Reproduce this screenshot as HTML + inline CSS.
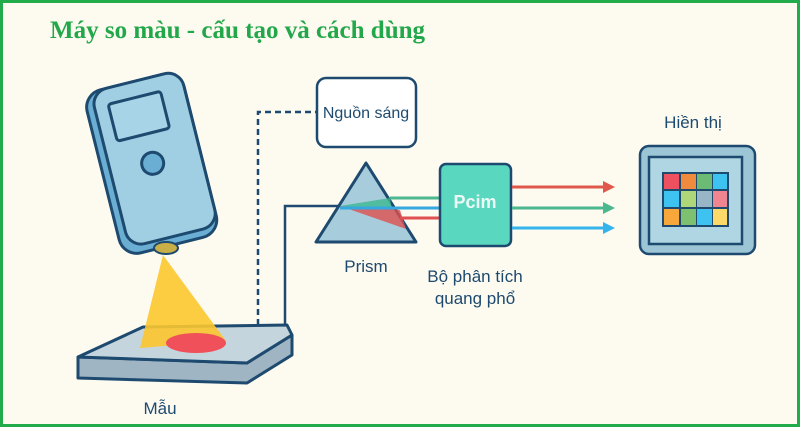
<!DOCTYPE html>
<html><head><meta charset="utf-8"><style>
html,body{margin:0;padding:0;}
body{width:800px;height:427px;overflow:hidden;background:#fdfaf0;}
svg{display:block}
text{font-family:"Liberation Sans","DejaVu Sans",sans-serif;fill:#1d4a6e;}
</style></head><body>
<svg width="800" height="427" viewBox="0 0 800 427" xmlns="http://www.w3.org/2000/svg">
<rect x="1.5" y="1.5" width="797" height="424" fill="#fdfaf0" stroke="#22ab4b" stroke-width="3"/>
<text x="50" y="38" style="font-family:'Liberation Serif',serif;font-weight:bold;font-size:25px;fill:#22a84a">Máy so màu - cấu tạo và cách dùng</text>

<!-- base plate -->
<polygon points="78,357 78,378 247,383 292,355 292,335 247,363" fill="#9fb5c4" stroke="#1d4a6e" stroke-width="3" stroke-linejoin="round"/>
<polygon points="78,357 143,327 287,325 292,335 247,363" fill="#c5d5de" stroke="#1d4a6e" stroke-width="3" stroke-linejoin="round"/>
<!-- cone -->
<polygon points="163,255 140,348 226,341" fill="#fcc72d" opacity="0.9"/>
<ellipse cx="196" cy="343" rx="30" ry="10" fill="#f0505a"/>

<!-- device -->
<g transform="rotate(-14 150 165)">
<rect x="102" y="80" width="100" height="168" rx="18" fill="#6aaed4" stroke="#1d4a6e" stroke-width="3"/>
<rect x="110" y="80" width="92" height="160" rx="16" fill="#a0cfe4" stroke="#1d4a6e" stroke-width="3"/>
<rect x="124" y="96" width="54" height="38" rx="3" fill="#a8d4e8" stroke="#1d4a6e" stroke-width="3"/>
<circle cx="153" cy="164" r="11" fill="#6aaed4" stroke="#1d4a6e" stroke-width="3"/>
</g>
<ellipse cx="166" cy="248" rx="12" ry="6" fill="#c9b046" stroke="#1d4a6e" stroke-width="2"/>

<!-- connectors -->
<polyline points="258,325 258,112 316,112" fill="none" stroke="#1d4a6e" stroke-width="2.5" stroke-dasharray="6,4"/>
<polyline points="285,325 285,206 345,206" fill="none" stroke="#1d4a6e" stroke-width="2.5"/>

<!-- nguon sang -->
<rect x="317" y="78" width="99" height="69" rx="9" fill="#fff" stroke="#1d4a6e" stroke-width="2.5"/>
<text x="366" y="118" font-size="16" text-anchor="middle">Nguồn sáng</text>

<!-- prism -->
<polygon points="366,163 316,242 416,242" fill="#a7cddd" stroke="#1d4a6e" stroke-width="3" stroke-linejoin="round"/>
<polygon points="340,206 390,198 392,210" fill="#3cb890" opacity="0.8"/>
<polygon points="340,206 406,229 400,210" fill="#e05050" opacity="0.8"/>
<line x1="390" y1="198" x2="440" y2="198" stroke="#4cb890" stroke-width="3"/>
<line x1="340" y1="208" x2="440" y2="208" stroke="#35a8e0" stroke-width="3"/>
<line x1="400" y1="218" x2="440" y2="218" stroke="#e05050" stroke-width="3"/>
<text x="366" y="272" font-size="17" text-anchor="middle">Prism</text>

<!-- Pcim -->
<rect x="440" y="164" width="71" height="82" rx="6" fill="#5ad8bf" stroke="#1d4a6e" stroke-width="2.5"/>
<text x="475" y="208" font-size="18" text-anchor="middle" style="fill:#eafaf5;font-weight:bold">Pcim</text>
<text x="475" y="282" font-size="17" text-anchor="middle">Bộ phân tích</text>
<text x="475" y="304" font-size="17" text-anchor="middle">quang phổ</text>

<!-- arrows -->
<line x1="512" y1="187" x2="605" y2="187" stroke="#e0584c" stroke-width="3"/>
<polygon points="603,181 615,187 603,193" fill="#e0584c"/>
<line x1="512" y1="208" x2="605" y2="208" stroke="#4cb890" stroke-width="3"/>
<polygon points="603,202 615,208 603,214" fill="#4cb890"/>
<line x1="512" y1="228" x2="605" y2="228" stroke="#35b4ec" stroke-width="3"/>
<polygon points="603,222 615,228 603,234" fill="#35b4ec"/>

<!-- display -->
<text x="693" y="128" font-size="17" text-anchor="middle">Hiền thị</text>
<rect x="640" y="146" width="115" height="108" rx="9" fill="#9cc5d6" stroke="#1d4a6e" stroke-width="2.5"/>
<rect x="649" y="157" width="93" height="87" fill="#b0d6e4" stroke="#1d4a6e" stroke-width="2.5"/>
<rect x="662" y="172" width="67" height="55" fill="#1d4a6e"/>
<g>
<rect x="664" y="174" width="15" height="15" fill="#ee5060"/><rect x="681" y="174" width="15" height="15" fill="#f08a3c"/><rect x="697" y="174" width="15" height="15" fill="#6cbb74"/><rect x="713" y="174" width="14" height="15" fill="#3ec3f0"/>
<rect x="664" y="191" width="15" height="16" fill="#3ec3f0"/><rect x="681" y="191" width="15" height="16" fill="#b0d67a"/><rect x="697" y="191" width="15" height="16" fill="#98b6c6"/><rect x="713" y="191" width="14" height="16" fill="#f08590"/>
<rect x="664" y="209" width="15" height="16" fill="#f8a83a"/><rect x="681" y="209" width="15" height="16" fill="#7cc070"/><rect x="697" y="209" width="15" height="16" fill="#3ec3f0"/><rect x="713" y="209" width="14" height="16" fill="#fcda6a"/>
</g>

<text x="160" y="414" font-size="17" text-anchor="middle">Mẫu</text>
</svg>
</body></html>
